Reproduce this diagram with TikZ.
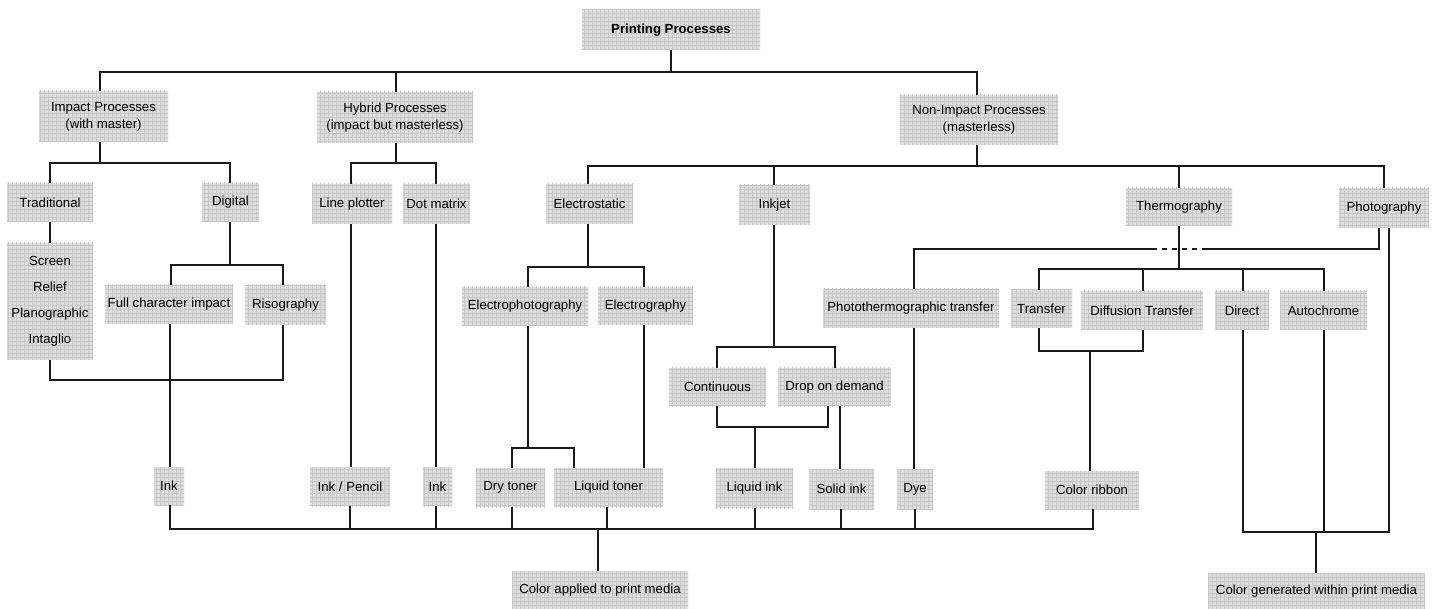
\documentclass[tikz,border=0pt]{standalone}
\usepackage{fontspec}
\setmainfont{Liberation Sans}
\usetikzlibrary{patterns}
\definecolor{boxgray}{RGB}{222,222,222}
\definecolor{gridgray}{RGB}{198,198,198}
\tikzset{
  bx/.style={fill=boxgray, postaction={pattern=grid, pattern color=gridgray},
    inner sep=0pt, align=center, text=black,
    font=\fontsize{9.9}{12.75}\selectfont},
  ln/.style={line width=1.4pt, draw=black!90, line join=miter},
}
\newcommand\mybox[7][]{\node[bx,#1, minimum width={(#5-#3)*0.75pt}, minimum height={(#6-#4)*0.75pt}] (#2) at ({(#3+#5)/2},{(#4+#6)/2}) {#7};}
\begin{document}
\begin{tikzpicture}[x=0.75pt,y=-0.75pt]
\fill[white] (0,0) rectangle (1438,609);
\useasboundingbox (0,0) rectangle (1438,609);
% nodes
\mybox{pp}{582}{10}{760}{50}{\textbf{Printing Processes}}
\mybox{imp}{39}{91}{168}{142}{Impact Processes\\(with master)}
\mybox{hyb}{317}{92}{473}{143}{Hybrid Processes\\(impact but masterless)}
\mybox{non}{900}{95}{1058}{145}{Non-Impact Processes\\(masterless)}
\mybox{trad}{7}{183}{93}{222}{Traditional}
\mybox{dig}{202}{183}{259}{222}{Digital}
\mybox{lp}{312}{184}{392}{224}{Line plotter}
\mybox{dm}{403}{184}{470}{224}{Dot matrix}
\mybox{es}{546}{184}{633}{224}{Electrostatic}
\mybox{ij}{739}{185}{810}{225}{Inkjet}
\mybox{th}{1126}{188}{1232}{226}{Thermography}
\mybox{ph}{1339}{188}{1429}{228}{Photography}
\mybox[font=\fontsize{9.9}{19.5}\selectfont]{scr}{7}{243}{93}{360}{Screen\\Relief\\Planographic\\Intaglio}
\mybox{fci}{105}{285}{233}{324}{Full character impact}
\mybox{ris}{245}{285}{326}{325}{Risography}
\mybox{ep}{462}{287}{588}{326}{Electrophotography}
\mybox{eg}{598}{287}{693}{325}{Electrography}
\mybox{ptt}{823}{289}{999}{328}{Photothermographic transfer}
\mybox{tr}{1011}{290}{1072}{328}{Transfer}
\mybox{dt}{1081}{291}{1203}{330}{Diffusion Transfer}
\mybox{di}{1215}{291}{1269}{330}{Direct}
\mybox{ac}{1280}{291}{1367}{330}{Autochrome}
\mybox{co}{669}{368}{766}{406}{Continuous}
\mybox{dod}{778}{368}{891}{406}{Drop on demand}
\mybox{inka}{154}{467}{184}{505}{Ink}
\mybox{inkp}{310}{467}{390}{506}{Ink / Pencil}
\mybox{inkb}{423}{467}{452}{506}{Ink}
\mybox{dry}{476}{468}{545}{507}{Dry toner}
\mybox{lqt}{554}{468}{663}{507}{Liquid toner}
\mybox{lqi}{716}{468}{793}{508}{Liquid ink}
\mybox{sol}{809}{469}{874}{509}{Solid ink}
\mybox{dye}{897}{469}{933}{509}{Dye}
\mybox{cr}{1045}{471}{1139}{509}{Color ribbon}
\mybox{cap}{512}{571}{688}{609}{Color applied to print media}
\mybox{cgw}{1208}{573}{1425}{609}{Color generated within print media}
% junction coordinates
\coordinate (jtop) at (671,72);
\coordinate (jci) at (755,427);
\coordinate (jtd) at (1090,351);
\coordinate (jbus) at (598,529);
\coordinate (jgen) at (1316,532);
% top level
\draw[ln] (pp.south) -- (jtop);
\draw[ln] (imp.north -| 100,0) -- (100,72) -- (977,72) -- (non.north -| 977,0);
\draw[ln] (hyb.north -| 396,0) -- (396,72);
% impact
\draw[ln] (imp.south -| 100,0) -- (100,163);
\draw[ln] (trad.north -| 50,0) -- (50,163) -- (230,163) -- (dig.north -| 230,0);
% hybrid
\draw[ln] (hyb.south -| 396,0) -- (396,163);
\draw[ln] (lp.north -| 351,0) -- (351,163) -- (436,163) -- (dm.north -| 436,0);
% non-impact
\draw[ln] (non.south -| 977,0) -- (977,166);
\draw[ln] (es.north -| 588,0) -- (588,166) -- (1384,166) -- (ph.north -| 1384,0);
\draw[ln] (ij.north -| 774,0) -- (774,166);
\draw[ln] (th.north -| 1179,0) -- (1179,166);
% traditional / digital
\draw[ln] (trad.south -| 50,0) -- (scr.north -| 50,0);
\draw[ln] (dig.south -| 230,0) -- (230,265);
\draw[ln] (fci.north -| 171,0) -- (171,265) -- (283,265) -- (ris.north -| 283,0);
\draw[ln] (scr.south -| 50,0) -- (50,380) -- (283,380) -- (ris.south -| 283,0);
\draw[ln] (fci.south -| 170,0) -- (inka.north -| 170,0);
\draw[ln] (lp.south -| 351,0) -- (inkp.north -| 351,0);
\draw[ln] (dm.south -| 436,0) -- (inkb.north -| 436,0);
% electrostatic
\draw[ln] (es.south -| 588,0) -- (588,267);
\draw[ln] (ep.north -| 528,0) -- (528,267) -- (644,267) -- (eg.north -| 644,0);
\draw[ln] (ep.south -| 528,0) -- (528,448);
\draw[ln] (dry.north -| 512,0) -- (512,448) -- (574,448) -- (lqt.north -| 574,0);
\draw[ln] (eg.south -| 644,0) -- (lqt.north -| 644,0);
% inkjet
\draw[ln] (ij.south -| 774,0) -- (774,347);
\draw[ln] (co.north -| 717,0) -- (717,347) -- (835,347) -- (dod.north -| 835,0);
\draw[ln] (co.south -| 717,0) -- (717,427) -- (828,427) -- (dod.south -| 828,0);
\draw[ln] (jci) -- (lqi.north -| 755,0);
\draw[ln] (dod.south -| 840,0) -- (sol.north -| 840,0);
% photography -> photothermographic
\draw[ln] (ph.south -| 1379,0) -- (1379,249) -- (1207,249);
\draw[line width=1pt, draw=black!90, dash pattern=on 4pt off 3.5pt] (1207,249) -- (1153,249);
\draw[ln] (1153,249) -- (914,249) -- (ptt.north -| 914,0);
\draw[ln] (ptt.south -| 914,0) -- (dye.north -| 914,0);
% thermography
\draw[ln] (th.south -| 1179,0) -- (1179,269);
\draw[ln] (tr.north -| 1039,0) -- (1039,269) -- (1324,269) -- (ac.north -| 1324,0);
\draw[ln] (dt.north -| 1143,0) -- (1143,269);
\draw[ln] (di.north -| 1243,0) -- (1243,269);
\draw[ln] (tr.south -| 1039,0) -- (1039,351) -- (1143,351) -- (dt.south -| 1143,0);
\draw[ln] (jtd) -- (cr.north -| 1090,0);
% bottom bus: colour applied
\draw[ln] (inka.south -| 170,0) -- (170,529) -- (1093,529) -- (cr.south -| 1093,0);
\draw[ln] (inkp.south -| 350,0) -- (350,529);
\draw[ln] (inkb.south -| 436,0) -- (436,529);
\draw[ln] (dry.south -| 512,0) -- (512,529);
\draw[ln] (lqt.south -| 607,0) -- (607,529);
\draw[ln] (lqi.south -| 755,0) -- (755,529);
\draw[ln] (sol.south -| 841,0) -- (841,529);
\draw[ln] (dye.south -| 915,0) -- (915,529);
\draw[ln] (jbus) -- (cap.north -| 598,0);
% colour generated
\draw[ln] (di.south -| 1243,0) -- (1243,532) -- (1389,532) -- (ph.south -| 1389,0);
\draw[ln] (ac.south -| 1324,0) -- (1324,532);
\draw[ln] (jgen) -- (cgw.north -| 1316,0);
\end{tikzpicture}
\end{document}
